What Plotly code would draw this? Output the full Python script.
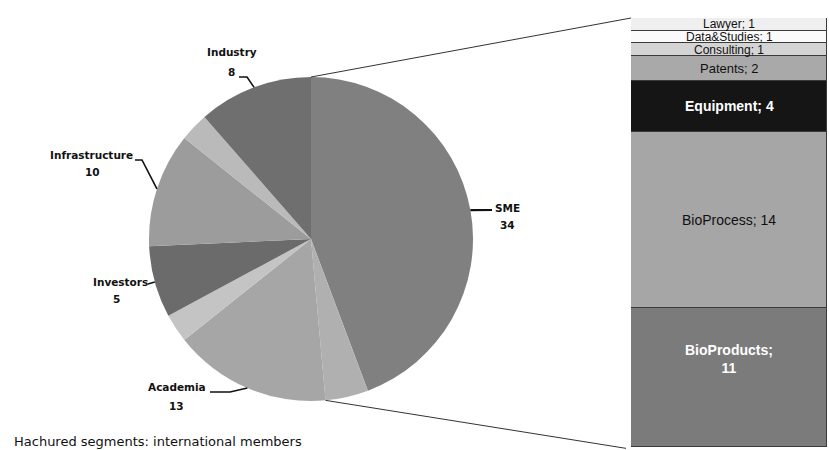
import math
import plotly.graph_objects as go

# ---------------- data ----------------
pie_labels = ["SME", "SME (international)", "Academia", "Academia (international)",
              "Investors", "Infrastructure", "Infrastructure (international)", "Industry"]
pie_values = [31, 3, 11, 2, 5, 8, 2, 8]
pie_colors = ["#808080", "#b0b0b0", "#a6a6a6", "#c4c4c4",
              "#6b6b6b", "#9c9c9c", "#bababa", "#6f6f6f"]

group_names = ["SME", "Academia", "Investors", "Infrastructure", "Industry"]
group_totals = [34, 13, 5, 10, 8]
group_main_index = [0, 2, 4, 5, 7]   # slice that carries the leader line

sme_cats = ["BioProducts", "BioProcess", "Equipment", "Patents", "Consulting", "Data&Studies", "Lawyer"]
sme_vals = [11, 14, 4, 2, 1, 1, 1]
sme_colors = ["#7b7b7b", "#a6a6a6", "#151515", "#a9a9a9", "#d4d4d4", "#fafafa", "#efefef"]
sme_text_colors = ["white", "#111111", "white", "#111111", "#111111", "#111111", "#111111"]
sme_bold = [True, False, True, False, False, False, False]

footer = "Hachured segments: international members"

# ---------------- layout geometry ----------------
W, H = 829, 450
pie_dom_x = [149 / W, 473 / W]
pie_dom_y = [1 - 401 / H, 1 - 77 / H]
bar_dom_x = [631 / W, 827 / W]
bar_dom_y = [1 - 447 / H, 1 - 18 / H]

cx = (pie_dom_x[0] + pie_dom_x[1]) / 2 * W
cy = (1 - (pie_dom_y[0] + pie_dom_y[1]) / 2) * H
r = min((pie_dom_x[1] - pie_dom_x[0]) * W, (pie_dom_y[1] - pie_dom_y[0]) * H) / 2
total = sum(pie_values)


def edge(angle_deg):
    a = math.radians(angle_deg)
    return cx + r * math.sin(a), cy - r * math.cos(a)


def paper(px, py):
    return px / W, 1 - py / H


cum = [0]
for v in pie_values:
    cum.append(cum[-1] + v)

fig = go.Figure()
fig.add_trace(go.Pie(
    labels=pie_labels, values=pie_values, sort=False, direction="clockwise",
    rotation=0, textinfo="none", hoverinfo="label+value",
    marker=dict(colors=pie_colors, line=dict(width=0)),
    domain=dict(x=pie_dom_x, y=pie_dom_y), showlegend=False,
))

for cat, v, col in zip(sme_cats, sme_vals, sme_colors):
    fig.add_trace(go.Bar(
        x=[0], y=[v], name=cat, width=1, marker=dict(color=col, line=dict(color="#3a3a3a", width=1)),
        showlegend=False, hoverinfo="name+y",
    ))

shapes = []
annotations = []

# connector lines from SME group edges to the bar
sme_end_angle = 360 * (pie_values[0] + pie_values[1]) / total
p0 = paper(*edge(0))
p1 = paper(*edge(sme_end_angle))
shapes.append(dict(type="line", xref="paper", yref="paper", x0=p0[0], y0=p0[1],
                   x1=bar_dom_x[0], y1=bar_dom_y[1], line=dict(color="#333333", width=1)))
shapes.append(dict(type="line", xref="paper", yref="paper", x0=p1[0], y0=p1[1],
                   x1=bar_dom_x[0] - 0.006, y1=bar_dom_y[0] - 0.003, line=dict(color="#333333", width=1)))

# pie labels (pixel positions of leader elbows / text)
label_layout = {
    "SME": dict(pts=[(492, 210)], name=(507.5, 207.5), val=(508, 224.5), w=2.2),
    "Academia": dict(pts=[(230, 392), (210, 392)], name=(177, 387), val=(176, 406), w=1.6),
    "Investors": dict(pts=[(148, 284)], name=(120, 282), val=(116, 299), w=1.6),
    "Infrastructure": dict(pts=[(142, 160), (135, 160)], name=(91, 155), val=(92, 172), w=1.6),
    "Industry": dict(pts=[(247, 77), (239, 77)], name=(232, 52), val=(231, 72), w=1.6),
}
lab_font = dict(family="DejaVu Sans", size=10.5, color="#111111")
for gname, gtot, mi in zip(group_names, group_totals, group_main_index):
    mid = 360 * (cum[mi] + pie_values[mi] / 2) / total
    ex, ey = edge(mid)
    L = label_layout[gname]
    pts = [(ex, ey)] + L["pts"]
    path = ""
    for i, (px, py) in enumerate(pts):
        qx, qy = paper(px, py)
        path += ("M" if i == 0 else " L") + f"{qx:.5f},{qy:.5f}"
    shapes.append(dict(type="path", xref="paper", yref="paper", path=path,
                       line=dict(color="#111111", width=L["w"])))
    nx, ny = paper(*L["name"])
    vx, vy = paper(*L["val"])
    annotations.append(dict(x=nx, y=ny, xref="paper", yref="paper", text=f"<b>{gname}</b>",
                            showarrow=False, font=lab_font, xanchor="center", yanchor="middle"))
    annotations.append(dict(x=vx, y=vy, xref="paper", yref="paper", text=f"<b>{gtot}</b>",
                            showarrow=False, font=lab_font, xanchor="center", yanchor="middle"))

# bar labels
bcum = 0
for cat, v, tc, b in zip(sme_cats, sme_vals, sme_text_colors, sme_bold):
    midy = bcum + v / 2
    bcum += v
    if cat == "BioProducts":
        txt = f"<b>{cat};<br>{v}</b>"
        ys = 19
    elif b:
        txt = f"<b>{cat}; {v}</b>"
        ys = 0
    else:
        txt = f"{cat}; {v}"
        ys = 0
    size = 14 if (b or v >= 10) else (13 if v >= 2 else 12)
    annotations.append(dict(x=0, y=midy, xref="x", yref="y", text=txt, showarrow=False,
                            yshift=ys, borderpad=0,
                            font=dict(family="Liberation Sans", size=size, color=tc)))

fx, fy = paper(12, 441)
annotations.append(dict(x=fx, y=fy, xref="paper", yref="paper", text=footer, showarrow=False,
                        xanchor="left", yanchor="middle",
                        font=dict(family="DejaVu Sans", size=13, color="#111111")))

fig.update_layout(
    width=W, height=H, margin=dict(l=0, r=0, t=0, b=0),
    paper_bgcolor="white", plot_bgcolor="white", barmode="stack", bargap=0,
    xaxis=dict(domain=bar_dom_x, range=[-0.5, 0.5], visible=False, fixedrange=True),
    yaxis=dict(domain=bar_dom_y, range=[0, sum(sme_vals)], visible=False, fixedrange=True),
    shapes=shapes, annotations=annotations,
)

fig.write_html("out.html")
